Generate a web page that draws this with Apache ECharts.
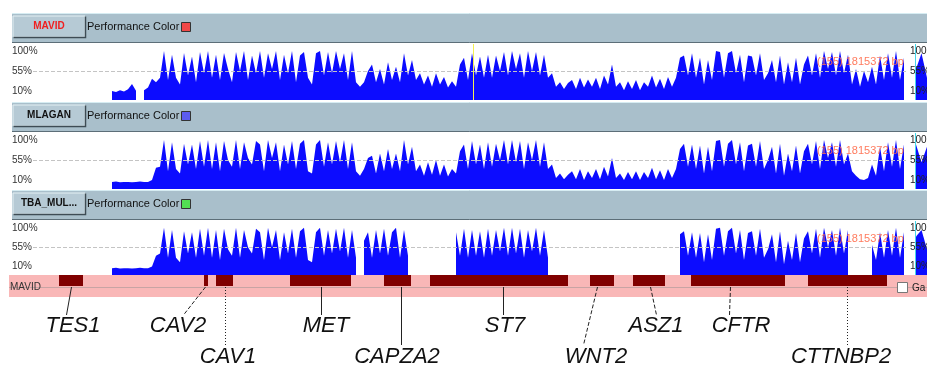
<!DOCTYPE html>
<html>
<head>
<meta charset="utf-8">
<script src="https://cdn.jsdelivr.net/npm/echarts@6/dist/echarts.min.js"></script>
<style>
html, body { margin: 0; padding: 0; background: #fff; }
#chart { width: 927px; height: 371px; }
</style>
</head>
<body>
<div id="chart"></div>
<script>
// percent identity, one value per 8 kb bin starting at 158 kb
const signalStartKb = 158;
const stepKb = 8;

const mavid = [
  10, 8, 12, 9, 14,  26, 11, null, 12, 18,  38, 30, 40, 100, 35,  92, 40, 25, 96, 45,
  88, 30, 98, 50, 100,  40, 92, 35, 96, 60,  30, 98, 55, 100, 35,  90, 50, 100, 40, 95,
  60, 100, 35, 92, 50,  100, 30, 90, 98, 40,  25, 95, 100, 45, 98,  50, 100, 60, 95, 35,
  100, 30, 20, 30, 55,  70, 30, 60, 25, 75,  35, 65, 30, 95, 45,  80, 35, 50, 25, 45,
  20, 50, 25, 42, 18,  32, 20, 70, 85, 35,  95, 45, 88, 40, 92,  40, 90, 55, 98, 45,
  100, 60, 95, 40, 100,  55, 98, 45, 92, 40,  50, 20, 30, 15, 28,  35, 15, 40, 18, 36,
  20, 40, 15, 45, 25,  70, 20, 30, 12, 32,  15, 35, 12, 30, 20,  45, 18, 38, 15, 42,
  20, 40, 85, 90, 45,  95, 40, 85, 25, 80,  35, 100, 98, 40, 95,  100, 50, 92, 30, 90,
  88, 45, 95, 35, 50,  80, 30, 90, 25, 75,  30, 85, 25, 70, 90,  45, 95, 40, 100, 60,
  98, 45, 100, 50, 92,  25, 60, 20, 55, 30,  65, 25, 90, 35, 95,  40, 100, 35, 85
];

const mlagan = [
  6, 7, 5, 6, 6,  5, 6, 7, 6, 6,  10, 38, 40, 100, 30,  95, 35, 25, 92, 45,
  90, 35, 98, 40, 100,  35, 95, 30, 98, 55,  40, 100, 35, 95, 60,  45, 98, 90, 30, 100,
  60, 95, 30, 90, 45,  98, 35, 92, 100, 30,  25, 90, 100, 40, 95,  45, 98, 50, 100, 35,
  95, 30, 20, 35, 60,  65, 25, 70, 30, 80,  35, 70, 30, 100, 45,  85, 30, 45, 20, 50,
  22, 55, 20, 45, 18,  35, 25, 75, 90, 35,  98, 45, 90, 35, 95,  40, 92, 55, 100, 45,
  100, 50, 98, 35, 95,  55, 100, 40, 95, 35,  45, 15, 25, 12, 22,  30, 12, 35, 10, 30,
  15, 35, 12, 40, 18,  60, 15, 25, 10, 28,  12, 30, 10, 28, 15,  38, 12, 32, 10, 35,
  15, 35, 80, 92, 40,  90, 35, 88, 25, 85,  30, 98, 100, 40, 92,  100, 45, 95, 30, 88,
  92, 40, 98, 35, 55,  85, 25, 92, 20, 70,  30, 88, 25, 75, 92,  45, 98, 35, 100, 60,
  95, 40, 100, 45, 70,  30, 20, 12, 10, 15,  45, 20, 85, 30, 95,  40, 100, 35, 90
];

const tba = [
  6, 7, 5, 6, 6,  5, 6, 7, 6, 6,  10, 35, 40, 100, 30,  95, 30, 20, 92, 40,
  90, 30, 98, 35, 100,  30, 95, 25, 98, 50,  35, 100, 30, 95, 55,  40, 98, 90, 25, 100,
  55, 95, 25, 90, 40,  98, 30, 92, 100, 25,  20, 90, 100, 35, 95,  40, 98, 45, 100, 30,
  95, 30, null, 70, 90,  30, 95, 40, 98, 35,  90, 100, 30, 95, 35,  null, null, null, null, null,
  null, null, null, null, null,  null, 90, 35, 98, 30,  95, 35, 92, 30, 98,  35, 95, 45, 100, 35,
  100, 40, 98, 30, 95,  45, 100, 35, 95, 30,  null, null, null, null, null,  null, null, null, null, null,
  null, null, null, null, null,  null, null, null, null, null,  null, null, null, null, null,  null, null, null, null, null,
  null, null, 85, 92, 35,  90, 30, 88, 20, 85,  25, 98, 100, 35, 92,  100, 40, 95, 25, 88,
  92, 35, 98, 30, 50,  85, 20, 92, 15, 70,  25, 88, 20, 75, 92,  40, 98, 30, 100, 55,
  95, 35, 100, 40, 95,  null, null, null, null, null,  60, 25, 90, 30, 95,  35, 100, 30, 90
];

// the next panel on the right, cut off by the window
const mavidTail = [60, 95, 40];
const mlaganTail = [90, 50, 85];
const tbaTail = [80, 95, 50];

// genes, in kb; mark = where the leader line starts
const genes = [
  { name: 'TES1', start: 52, end: 100, mark: 76 },
  { name: 'CAV2', start: 342, end: 350, mark: 344 },
  { name: 'CAV1', start: 366, end: 400, mark: 384 },
  { name: 'MET', start: 514, end: 636, mark: 576 },
  { name: 'CAPZA2', start: 702, end: 756, mark: 736 },
  { name: 'ST7', start: 794, end: 1070, mark: 940 },
  { name: 'WNT2', start: 1114, end: 1162, mark: 1128 },
  { name: 'ASZ1', start: 1200, end: 1264, mark: 1234 },
  { name: 'CFTR', start: 1316, end: 1504, mark: 1394 },
  { name: 'CTTNBP2', start: 1550, end: 1708, mark: 1628 }
];

const trackNames = ['MAVID', 'MLAGAN', 'TBA_MUL...'];
const perfColors = ['#f04848', '#5c5cf0', '#52e052'];
const yTicks = [10, 55, 100];
const regionText = '(155) 1815372 bp';
const cursorKb = 880;

// label placement below the gene track (px)
const labelLayout = [
  { dx: 2, ldx: -5, row: 1, dash: 'solid' },
  { dx: -27, ldx: -22, row: 1, dash: 'dashed' },
  { dx: 3, ldx: 0, row: 2, dash: 'dotted' },
  { dx: 5, ldx: 0, row: 1, dash: 'solid' },
  { dx: -4, ldx: 0, row: 2, dash: 'solid' },
  { dx: 2, ldx: 0, row: 1, dash: 'solid' },
  { dx: -1, ldx: -14, row: 2, dash: 'dashed' },
  { dx: 6, ldx: 6, row: 1, dash: 'dashed' },
  { dx: 11, ldx: -1, row: 1, dash: 'dashed' },
  { dx: -6, ldx: 0, row: 2, dash: 'dotted' }
];

const tracks = [
  { top: 44, height: 56, header: 13, data: mavid, tail: mavidTail },
  { top: 133, height: 56, header: 102, data: mlagan, tail: mlaganTail },
  { top: 221, height: 54, header: 190, data: tba, tail: tbaTail }
];

const blue = '#0c0cff';
const font = '"Liberation Sans", Arial, sans-serif';

const grid = [], xAxis = [], yAxis = [], series = [], graphic = [];

tracks.forEach((t, i) => {
  grid.push({ left: 33, right: 21, top: t.top, height: t.height, outerBoundsMode: 'none' });
  grid.push({ left: 916, right: 0, top: t.top, height: t.height, outerBoundsMode: 'none' });
  const g = i * 2;
  xAxis.push({ type: 'value', gridIndex: g, min: 0, max: 1746, show: false });
  xAxis.push({ type: 'category', gridIndex: g + 1, data: t.tail.map((v, k) => k), boundaryGap: false, show: false });
  const yBase = {
    type: 'value', min: -10, max: 116,
    axisLine: { show: false }, axisTick: { show: false }, splitLine: { show: false }
  };
  yAxis.push(Object.assign({}, yBase, {
    gridIndex: g, position: 'left',
    axisLabel: { customValues: yTicks, formatter: v => v + '%', align: 'left', margin: 21,
      color: '#333', fontSize: 10, fontFamily: font }
  }));
  yAxis.push(Object.assign({}, yBase, {
    gridIndex: g, position: 'right', z: 20,
    axisLabel: { customValues: yTicks, formatter: v => v + '%', align: 'left', margin: 4,
      color: '#222', fontSize: 10, fontFamily: font }
  }));
  yAxis.push(Object.assign({}, yBase, { gridIndex: g + 1, show: false }));

  const markData = [{ yAxis: 55, lineStyle: { color: '#c4c4c4', type: 'dashed', width: 1 } }];
  if (i === 0) markData.push({ xAxis: cursorKb, lineStyle: { color: '#f4f050', type: 'solid', width: 1 } });

  series.push({
    type: 'line', xAxisIndex: g, yAxisIndex: i * 3,
    data: t.data.map((v, k) => [signalStartKb + k * stepKb, v]),
    showSymbol: false, connectNulls: false,
    lineStyle: { color: blue, width: 0 },
    areaStyle: { color: blue, opacity: 1, origin: 'start' },
    markLine: { silent: true, symbol: 'none', label: { show: false }, data: markData },
    z: 2
  });
  series.push({
    type: 'line', xAxisIndex: g + 1, yAxisIndex: i * 3 + 2,
    data: t.tail, showSymbol: false,
    lineStyle: { color: blue, width: 0 },
    areaStyle: { color: blue, opacity: 1, origin: 'start' },
    z: 1
  });

  // header bar
  const h = t.header;
  graphic.push(
    { type: 'rect', shape: { x: 12, y: h, width: 915, height: 30 }, style: { fill: '#a9bfcb' }, z: 1 },
    { type: 'line', shape: { x1: 12, y1: h + 0.5, x2: 927, y2: h + 0.5 }, style: { stroke: '#d6ecf2', lineWidth: 1 }, z: 2 },
    { type: 'line', shape: { x1: 12, y1: h + 29.5, x2: 927, y2: h + 29.5 }, style: { stroke: '#5c6e78', lineWidth: 1 }, z: 2 },
    { type: 'rect', shape: { x: 13, y: h + 3, width: 72, height: 21 }, style: { fill: '#b6cad5', stroke: '#e4f0f4', lineWidth: 1 }, z: 2 },
    { type: 'polyline', shape: { points: [[13.5, h + 24.5], [85.5, h + 24.5], [85.5, h + 3.5]] }, style: { stroke: '#3e4c55', lineWidth: 1.5, fill: null }, z: 3 },
    { type: 'text', x: 49, y: h + 13.5, style: { text: trackNames[i], font: 'bold 10px ' + font,
      fill: i === 0 ? '#f02020' : '#111', align: 'center', verticalAlign: 'middle' }, z: 3 },
    { type: 'text', x: 87, y: h + 13.5, style: { text: 'Performance Color', font: '11px ' + font,
      fill: '#111', verticalAlign: 'middle' }, z: 3 },
    { type: 'rect', shape: { x: 181.5, y: h + 9.5, width: 9, height: 9 }, style: { fill: perfColors[i], stroke: '#333', lineWidth: 1 }, z: 3 },
    { type: 'line', shape: { x1: 915.5, y1: t.top, x2: 915.5, y2: t.top + t.height }, style: { stroke: '#46d6ea', lineWidth: 1 }, z: 50 },
    { type: 'text', x: 817, y: t.top + 18, style: { text: regionText, font: '11px ' + font,
      fill: 'rgba(255,112,80,0.92)', verticalAlign: 'middle' }, z: 50 }
  );
});

// gene track
grid.push({ left: 33, right: 21, top: 275, height: 22, outerBoundsMode: 'none' });
xAxis.push({ type: 'value', gridIndex: 6, min: 0, max: 1746, show: false });
yAxis.push({ type: 'value', gridIndex: 6, min: 0, max: 2, show: false });

graphic.push(
  { type: 'rect', shape: { x: 9, y: 275, width: 918, height: 22 }, style: { fill: '#f9b7b7' }, z: 0 },
  { type: 'line', shape: { x1: 9, y1: 287.5, x2: 927, y2: 287.5 }, style: { stroke: '#c8a4a4', lineWidth: 1 }, z: 1 },
  { type: 'text', x: 10, y: 287, style: { text: 'MAVID', font: '10px ' + font, fill: '#333', verticalAlign: 'middle' }, z: 3 },
  { type: 'rect', shape: { x: 897.5, y: 282.5, width: 10, height: 10 }, style: { fill: '#fff', stroke: '#777', lineWidth: 1 }, z: 3 },
  { type: 'text', x: 912, y: 288, style: { text: 'Ga', font: '10px ' + font, fill: '#222', verticalAlign: 'middle' }, z: 3 }
);

const dashes = { solid: null, dashed: [4, 2], dotted: [1, 2] };

series.push({
  type: 'custom', xAxisIndex: 6, yAxisIndex: 9,
  clip: false,
  data: genes.map(g => [g.start, g.end, g.mark]),
  renderItem: (params, api) => {
    const s = api.coord([api.value(0), 2]);
    const e = api.coord([api.value(1), 1]);
    const m = api.coord([api.value(2), 1]);
    const lay = labelLayout[params.dataIndex];
    const lineEnd = lay.row === 1 ? 315 : 345;
    const textY = lay.row === 1 ? 326 : 357;
    return {
      type: 'group',
      children: [
        { type: 'rect', shape: { x: s[0], y: s[1], width: Math.max(e[0] - s[0], 1), height: e[1] - s[1] },
          style: { fill: '#800000' } },
        { type: 'line', shape: { x1: m[0] + 0.5, y1: e[1] + 1, x2: m[0] + lay.ldx + 0.5, y2: lineEnd },
          style: { stroke: '#222', lineWidth: 1, lineDash: dashes[lay.dash] } },
        { type: 'text', x: m[0] + lay.dx, y: textY,
          style: { text: genes[params.dataIndex].name, font: 'italic 22px ' + font, fill: '#111',
            align: 'center', verticalAlign: 'middle' } }
      ]
    };
  },
  z: 5
});

const chart = echarts.init(document.getElementById('chart'));
chart.setOption({
  animation: false,
  backgroundColor: '#fff',
  grid, xAxis, yAxis, series, graphic
});
</script>
</body>
</html>
